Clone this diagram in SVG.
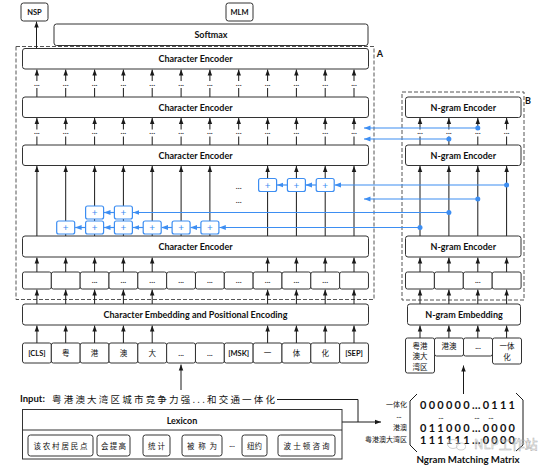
<svg xmlns="http://www.w3.org/2000/svg" width="554" height="469" viewBox="0 0 554 469">
<defs>
<marker id="ah" viewBox="0 0 8 8" refX="8" refY="4" markerWidth="6" markerHeight="6" orient="auto" markerUnits="userSpaceOnUse"><path d="M0,1 L8,4 L0,7 z" fill="#1a1a1a"/></marker>
<marker id="bh" viewBox="0 0 8 8" refX="8" refY="4" markerWidth="6.5" markerHeight="6.5" orient="auto" markerUnits="userSpaceOnUse"><path d="M0,1 L8,4 L0,7 z" fill="#3d8ef2"/></marker>
<style>
.bx{fill:#fff;stroke:#333;stroke-width:1}
.t{font-family:Lato,"Liberation Sans",sans-serif;font-weight:bold;font-size:9px;fill:#111;text-anchor:middle}
.s{font-size:7.5px}
.cj{font-family:"Noto Sans CJK SC",sans-serif;font-size:7.5px;fill:#111;text-anchor:middle}
.dt{font-family:Lato,"Liberation Sans",sans-serif;font-size:8px;font-weight:bold;fill:#333;text-anchor:middle}
.dash{fill:none;stroke:#555;stroke-width:1;stroke-dasharray:4 2}
.ln{stroke:#1a1a1a;stroke-width:1;fill:none}
.ar{stroke:#1a1a1a;stroke-width:1;fill:none;marker-end:url(#ah)}
.bl{stroke:#3d8ef2;stroke-width:1.2;fill:none;marker-end:url(#bh)}
.pb{fill:#fff;stroke:#3d8ef2;stroke-width:1.2}
.pt{font-family:Lato,"Liberation Sans",sans-serif;font-size:10px;fill:#3d8ef2;text-anchor:middle}
.bd{fill:#3d8ef2}
.mx{font-family:Lato,"Liberation Sans",sans-serif;font-weight:bold;font-size:11px;fill:#111}
</style>
</defs>
<rect width="554" height="469" fill="#fff"/>

<g id="groupA"><rect class="dash" x="16" y="46.5" width="358" height="253"/><text class="t" x="380" y="57">A</text></g>
<g id="groupB"><rect class="dash" x="402" y="92" width="122" height="208"/><text class="t" x="528" y="104">B</text></g>

<g id="connectors">
<line class="ar" x1="36.5" y1="48" x2="36.5" y2="21.5"/>
<path class="ln" d="M36.9,97V88M65.7,97V88M94.6,97V88M123.4,97V88M152.2,97V88M181.1,97V88M209.9,97V88M238.7,97V88M267.6,97V88M296.4,97V88M325.2,97V88M354,97V88"/>
<line class="ar" x1="36.9" y1="81" x2="36.9" y2="69.5"/><line class="ar" x1="65.7" y1="81" x2="65.7" y2="69.5"/><line class="ar" x1="94.6" y1="81" x2="94.6" y2="69.5"/><line class="ar" x1="123.4" y1="81" x2="123.4" y2="69.5"/><line class="ar" x1="152.2" y1="81" x2="152.2" y2="69.5"/><line class="ar" x1="181.1" y1="81" x2="181.1" y2="69.5"/><line class="ar" x1="209.9" y1="81" x2="209.9" y2="69.5"/><line class="ar" x1="238.7" y1="81" x2="238.7" y2="69.5"/><line class="ar" x1="267.6" y1="81" x2="267.6" y2="69.5"/><line class="ar" x1="296.4" y1="81" x2="296.4" y2="69.5"/><line class="ar" x1="325.2" y1="81" x2="325.2" y2="69.5"/><line class="ar" x1="354" y1="81" x2="354" y2="69.5"/>
<path class="ln" d="M36.9,145V136.5M65.7,145V136.5M94.6,145V136.5M123.4,145V136.5M152.2,145V136.5M181.1,145V136.5M209.9,145V136.5M238.7,145V136.5M267.6,145V136.5M296.4,145V136.5M325.2,145V136.5M354,145V136.5"/>
<line class="ar" x1="36.9" y1="129.5" x2="36.9" y2="118"/><line class="ar" x1="65.7" y1="129.5" x2="65.7" y2="118"/><line class="ar" x1="94.6" y1="129.5" x2="94.6" y2="118"/><line class="ar" x1="123.4" y1="129.5" x2="123.4" y2="118"/><line class="ar" x1="152.2" y1="129.5" x2="152.2" y2="118"/><line class="ar" x1="181.1" y1="129.5" x2="181.1" y2="118"/><line class="ar" x1="209.9" y1="129.5" x2="209.9" y2="118"/><line class="ar" x1="238.7" y1="129.5" x2="238.7" y2="118"/><line class="ar" x1="267.6" y1="129.5" x2="267.6" y2="118"/><line class="ar" x1="296.4" y1="129.5" x2="296.4" y2="118"/><line class="ar" x1="325.2" y1="129.5" x2="325.2" y2="118"/><line class="ar" x1="354" y1="129.5" x2="354" y2="118"/>
<line class="ar" x1="36.9" y1="236" x2="36.9" y2="166"/><line class="ar" x1="65.7" y1="236" x2="65.7" y2="166"/><line class="ar" x1="94.6" y1="236" x2="94.6" y2="166"/><line class="ar" x1="123.4" y1="236" x2="123.4" y2="166"/><line class="ar" x1="152.2" y1="236" x2="152.2" y2="166"/><line class="ar" x1="181.1" y1="236" x2="181.1" y2="166"/><line class="ar" x1="209.9" y1="236" x2="209.9" y2="166"/><line class="ar" x1="267.6" y1="236" x2="267.6" y2="166"/><line class="ar" x1="296.4" y1="236" x2="296.4" y2="166"/><line class="ar" x1="325.2" y1="236" x2="325.2" y2="166"/><line class="ar" x1="354" y1="236" x2="354" y2="166"/>
<line class="ar" x1="36.9" y1="272" x2="36.9" y2="257.5"/><line class="ar" x1="65.7" y1="272" x2="65.7" y2="257.5"/><line class="ar" x1="94.6" y1="272" x2="94.6" y2="257.5"/><line class="ar" x1="123.4" y1="272" x2="123.4" y2="257.5"/><line class="ar" x1="152.2" y1="272" x2="152.2" y2="257.5"/><line class="ar" x1="267.6" y1="272" x2="267.6" y2="257.5"/><line class="ar" x1="296.4" y1="272" x2="296.4" y2="257.5"/><line class="ar" x1="325.2" y1="272" x2="325.2" y2="257.5"/><line class="ar" x1="354" y1="272" x2="354" y2="257.5"/>
<line class="ar" x1="36.9" y1="304" x2="36.9" y2="289.5"/><line class="ar" x1="65.7" y1="304" x2="65.7" y2="289.5"/><line class="ar" x1="94.6" y1="304" x2="94.6" y2="289.5"/><line class="ar" x1="123.4" y1="304" x2="123.4" y2="289.5"/><line class="ar" x1="152.2" y1="304" x2="152.2" y2="289.5"/><line class="ar" x1="267.6" y1="304" x2="267.6" y2="289.5"/><line class="ar" x1="296.4" y1="304" x2="296.4" y2="289.5"/><line class="ar" x1="325.2" y1="304" x2="325.2" y2="289.5"/><line class="ar" x1="354" y1="304" x2="354" y2="289.5"/>
<line class="ar" x1="36.9" y1="343" x2="36.9" y2="325.5"/><line class="ar" x1="65.7" y1="343" x2="65.7" y2="325.5"/><line class="ar" x1="94.6" y1="343" x2="94.6" y2="325.5"/><line class="ar" x1="123.4" y1="343" x2="123.4" y2="325.5"/><line class="ar" x1="152.2" y1="343" x2="152.2" y2="325.5"/><line class="ar" x1="267.6" y1="343" x2="267.6" y2="325.5"/><line class="ar" x1="296.4" y1="343" x2="296.4" y2="325.5"/><line class="ar" x1="325.2" y1="343" x2="325.2" y2="325.5"/><line class="ar" x1="354" y1="343" x2="354" y2="325.5"/>
<line class="ar" x1="181" y1="390" x2="181" y2="364.5"/>
<path class="ln" d="M420,145V136.5M448.9,145V136.5M477.8,145V136.5M506.6,145V136.5"/>
<line class="ar" x1="420" y1="129.5" x2="420" y2="118"/><line class="ar" x1="448.9" y1="129.5" x2="448.9" y2="118"/><line class="ar" x1="477.8" y1="129.5" x2="477.8" y2="118"/><line class="ar" x1="506.6" y1="129.5" x2="506.6" y2="118"/>
<line class="ar" x1="420" y1="236" x2="420" y2="166"/><line class="ar" x1="448.9" y1="236" x2="448.9" y2="166"/><line class="ar" x1="477.8" y1="236" x2="477.8" y2="166"/><line class="ar" x1="506.6" y1="236" x2="506.6" y2="166"/>
<line class="ar" x1="420" y1="272" x2="420" y2="257.5"/><line class="ar" x1="448.9" y1="272" x2="448.9" y2="257.5"/><line class="ar" x1="477.8" y1="272" x2="477.8" y2="257.5"/><line class="ar" x1="506.6" y1="272" x2="506.6" y2="257.5"/>
<line class="ar" x1="420" y1="304" x2="420" y2="289.5"/><line class="ar" x1="448.9" y1="304" x2="448.9" y2="289.5"/><line class="ar" x1="477.8" y1="304" x2="477.8" y2="289.5"/><line class="ar" x1="506.6" y1="304" x2="506.6" y2="289.5"/>
<line class="ar" x1="420" y1="338" x2="420" y2="325.5"/><line class="ar" x1="448.9" y1="338" x2="448.9" y2="325.5"/><line class="ar" x1="477.8" y1="338" x2="477.8" y2="325.5"/><line class="ar" x1="506.6" y1="338" x2="506.6" y2="325.5"/>
<line class="ar" x1="463.5" y1="394" x2="463.5" y2="365.5"/>
<path class="ln" d="M277,399.5H358V422"/>
<line class="ar" x1="342" y1="422" x2="381" y2="422"/>
<line class="bl" x1="477.8" y1="128" x2="364" y2="128"/>
<line class="bl" x1="448.9" y1="139" x2="364" y2="139"/>
<line class="bl" x1="506.6" y1="185" x2="334.6" y2="185"/>
<line class="bl" x1="316.2" y1="185" x2="305.6" y2="185"/>
<line class="bl" x1="287.4" y1="185" x2="276.8" y2="185"/>
<line class="bl" x1="477.8" y1="199" x2="364" y2="199"/>
<line class="bl" x1="448.9" y1="212.5" x2="132.8" y2="212.5"/>
<line class="bl" x1="114.4" y1="212.5" x2="104" y2="212.5"/>
<line class="bl" x1="420" y1="227.5" x2="219.3" y2="227.5"/>
<line class="bl" x1="200.9" y1="227.5" x2="190.5" y2="227.5"/>
<line class="bl" x1="172.1" y1="227.5" x2="161.6" y2="227.5"/>
<line class="bl" x1="143.2" y1="227.5" x2="132.8" y2="227.5"/>
<line class="bl" x1="114.4" y1="227.5" x2="104" y2="227.5"/>
<line class="bl" x1="85.6" y1="227.5" x2="75.1" y2="227.5"/>
<circle class="bd" cx="477.8" cy="128" r="2.5"/><circle class="bd" cx="448.9" cy="139" r="2.5"/><circle class="bd" cx="506.6" cy="185" r="2.5"/><circle class="bd" cx="477.8" cy="199" r="2.5"/><circle class="bd" cx="448.9" cy="212.5" r="2.5"/><circle class="bd" cx="420" cy="227.5" r="2.5"/>
</g>

<g id="dots">
<text class="dt" x="36.9" y="85.5">...</text><text class="dt" x="65.7" y="85.5">...</text><text class="dt" x="94.6" y="85.5">...</text><text class="dt" x="123.4" y="85.5">...</text><text class="dt" x="152.2" y="85.5">...</text><text class="dt" x="181.1" y="85.5">...</text><text class="dt" x="209.9" y="85.5">...</text><text class="dt" x="238.7" y="85.5">...</text><text class="dt" x="267.6" y="85.5">...</text><text class="dt" x="296.4" y="85.5">...</text><text class="dt" x="325.2" y="85.5">...</text><text class="dt" x="354" y="85.5">...</text>
<text class="dt" x="36.9" y="134">...</text><text class="dt" x="65.7" y="134">...</text><text class="dt" x="94.6" y="134">...</text><text class="dt" x="123.4" y="134">...</text><text class="dt" x="152.2" y="134">...</text><text class="dt" x="181.1" y="134">...</text><text class="dt" x="209.9" y="134">...</text><text class="dt" x="238.7" y="134">...</text><text class="dt" x="267.6" y="134">...</text><text class="dt" x="296.4" y="134">...</text><text class="dt" x="325.2" y="134">...</text><text class="dt" x="354" y="134">...</text>
<text class="dt" x="420" y="134">...</text><text class="dt" x="448.9" y="134">...</text><text class="dt" x="477.8" y="134">...</text><text class="dt" x="506.6" y="134">...</text>
<text class="dt" x="238.7" y="188.5">...</text><text class="dt" x="238.7" y="202.5">...</text>
</g>

<g id="nsp"><rect class="bx" x="21" y="3" width="27" height="18" rx="2.5"/><text class="t s" x="34.5" y="15">NSP</text></g>
<g id="mlm"><rect class="bx" x="226" y="3" width="27" height="18" rx="2.5"/><text class="t s" x="239.5" y="15">MLM</text></g>
<g id="softmax"><rect class="bx" x="54" y="24" width="314" height="21.5" rx="2.5"/><text class="t" x="211" y="38">Softmax</text></g>
<g id="ce1"><rect class="bx" x="22.5" y="48.5" width="346" height="20.5" rx="2.5"/><text class="t" x="195.5" y="62">Character Encoder</text></g>
<g id="ce2"><rect class="bx" x="22.5" y="97" width="346" height="20.5" rx="2.5"/><text class="t" x="195.5" y="110.5">Character Encoder</text></g>
<g id="ce3"><rect class="bx" x="22.5" y="145" width="346" height="20.5" rx="2.5"/><text class="t" x="195.5" y="158.5">Character Encoder</text></g>
<g id="ce4"><rect class="bx" x="22.5" y="236" width="346" height="21" rx="2.5"/><text class="t" x="195.5" y="249.8">Character Encoder</text></g>

<g id="plus">
<rect class="pb" x="56.7" y="221" width="18" height="13" rx="2"/><text class="pt" x="65.7" y="231">+</text>
<rect class="pb" x="85.6" y="221" width="18" height="13" rx="2"/><text class="pt" x="94.6" y="231">+</text>
<rect class="pb" x="114.4" y="221" width="18" height="13" rx="2"/><text class="pt" x="123.4" y="231">+</text>
<rect class="pb" x="143.2" y="221" width="18" height="13" rx="2"/><text class="pt" x="152.2" y="231">+</text>
<rect class="pb" x="172.1" y="221" width="18" height="13" rx="2"/><text class="pt" x="181.1" y="231">+</text>
<rect class="pb" x="200.9" y="221" width="18" height="13" rx="2"/><text class="pt" x="209.9" y="231">+</text>
<rect class="pb" x="85.6" y="206" width="18" height="13" rx="2"/><text class="pt" x="94.6" y="216">+</text>
<rect class="pb" x="114.4" y="206" width="18" height="13" rx="2"/><text class="pt" x="123.4" y="216">+</text>
<rect class="pb" x="258.6" y="178.5" width="18" height="13" rx="2"/><text class="pt" x="267.6" y="188.5">+</text>
<rect class="pb" x="287.4" y="178.5" width="18" height="13" rx="2"/><text class="pt" x="296.4" y="188.5">+</text>
<rect class="pb" x="316.2" y="178.5" width="18" height="13" rx="2"/><text class="pt" x="325.2" y="188.5">+</text>
</g>

<g id="hidden-row">
<rect class="bx" x="22.5" y="272" width="28.83" height="17" rx="2"/>
<rect class="bx" x="51.33" y="272" width="28.83" height="17" rx="2"/>
<rect class="bx" x="80.16" y="272" width="28.83" height="17" rx="2"/><text class="dt" x="94.6" y="283">...</text>
<rect class="bx" x="108.99" y="272" width="28.83" height="17" rx="2"/><text class="dt" x="123.4" y="283">...</text>
<rect class="bx" x="137.82" y="272" width="28.83" height="17" rx="2"/><text class="dt" x="152.2" y="283">...</text>
<rect class="bx" x="166.65" y="272" width="28.83" height="17" rx="2"/><text class="dt" x="181.1" y="283">...</text>
<rect class="bx" x="195.48" y="272" width="28.83" height="17" rx="2"/><text class="dt" x="209.9" y="283">...</text>
<rect class="bx" x="224.31" y="272" width="28.83" height="17" rx="2"/><text class="dt" x="238.7" y="283">...</text>
<rect class="bx" x="253.14" y="272" width="28.83" height="17" rx="2"/><text class="dt" x="267.6" y="283">...</text>
<rect class="bx" x="281.97" y="272" width="28.83" height="17" rx="2"/><text class="dt" x="296.4" y="283">...</text>
<rect class="bx" x="310.8" y="272" width="28.83" height="17" rx="2"/><text class="dt" x="325.2" y="283">...</text>
<rect class="bx" x="339.63" y="272" width="28.83" height="17" rx="2"/>
</g>

<g id="embedding"><rect class="bx" x="22.5" y="304" width="346" height="21" rx="2.5"/><text class="t" x="195.5" y="317.8">Character Embedding and Positional Encoding</text></g>

<g id="tokens">
<rect class="bx" x="22.5" y="343" width="28.83" height="20" rx="2"/><text class="t s" x="36.9" y="356">[CLS]</text>
<rect class="bx" x="51.33" y="343" width="28.83" height="20" rx="2"/><text class="cj" x="65.7" y="356">粤</text>
<rect class="bx" x="80.16" y="343" width="28.83" height="20" rx="2"/><text class="cj" x="94.6" y="356">港</text>
<rect class="bx" x="108.99" y="343" width="28.83" height="20" rx="2"/><text class="cj" x="123.4" y="356">澳</text>
<rect class="bx" x="137.82" y="343" width="28.83" height="20" rx="2"/><text class="cj" x="152.2" y="356">大</text>
<rect class="bx" x="166.65" y="343" width="28.83" height="20" rx="2"/><text class="dt" x="181.1" y="356">...</text>
<rect class="bx" x="195.48" y="343" width="28.83" height="20" rx="2"/><text class="dt" x="209.9" y="356">...</text>
<rect class="bx" x="224.31" y="343" width="28.83" height="20" rx="2"/><text class="t s" x="238.7" y="356">[MSK]</text>
<rect class="bx" x="253.14" y="343" width="28.83" height="20" rx="2"/><text class="cj" x="267.6" y="356">一</text>
<rect class="bx" x="281.97" y="343" width="28.83" height="20" rx="2"/><text class="cj" x="296.4" y="356">体</text>
<rect class="bx" x="310.8" y="343" width="28.83" height="20" rx="2"/><text class="cj" x="325.2" y="356">化</text>
<rect class="bx" x="339.63" y="343" width="28.83" height="20" rx="2"/><text class="t s" x="354" y="356">[SEP]</text>
</g>

<g id="ne1"><rect class="bx" x="405.5" y="97" width="115.5" height="20.5" rx="2.5"/><text class="t" x="463.3" y="110.5">N-gram Encoder</text></g>
<g id="ne2"><rect class="bx" x="405.5" y="145" width="115.5" height="20.5" rx="2.5"/><text class="t" x="463.3" y="158.5">N-gram Encoder</text></g>
<g id="ne3"><rect class="bx" x="405.5" y="236" width="115.5" height="21" rx="2.5"/><text class="t" x="463.3" y="249.8">N-gram Encoder</text></g>
<g id="ngram-row">
<rect class="bx" x="405.5" y="272" width="28.9" height="17" rx="2"/>
<rect class="bx" x="434.4" y="272" width="28.9" height="17" rx="2"/>
<rect class="bx" x="463.3" y="272" width="28.9" height="17" rx="2"/><text class="dt" x="477.8" y="283">...</text>
<rect class="bx" x="492.2" y="272" width="28.9" height="17" rx="2"/>
</g>
<g id="ngram-embedding"><rect class="bx" x="407.5" y="304" width="113" height="21" rx="2.5"/><text class="t" x="464" y="317.8">N-gram Embedding</text></g>
<g id="ngram-tokens">
<rect class="bx" x="405.5" y="338" width="29" height="35" rx="2"/>
<text class="cj" x="420" y="348.5">粤港</text><text class="cj" x="420" y="359">澳大</text><text class="cj" x="420" y="369.5">湾区</text>
<rect class="bx" x="434.5" y="338" width="29" height="18" rx="2"/><text class="cj" x="449" y="349">港澳</text>
<rect class="bx" x="463.5" y="338" width="29" height="18" rx="2"/><text class="dt" x="478" y="349">...</text>
<rect class="bx" x="492.5" y="338" width="29" height="26" rx="2"/><text class="cj" x="507" y="348.5">一体</text><text class="cj" x="507" y="359.5">化</text>
</g>

<g id="input">
<text class="t" x="20" y="402" style="text-anchor:start;font-size:9.5px">Input:</text>
<text class="cj" x="52" y="402.5" style="text-anchor:start;font-size:9.5px" textLength="223" lengthAdjust="spacing">粤港澳大湾区城市竞争力强...和交通一体化</text>
</g>

<g id="lexicon">
<rect class="bx" x="22.5" y="409.5" width="319.5" height="49.5"/>
<line class="ln" x1="22.5" y1="430" x2="342" y2="430" style="stroke:#333"/>
<text class="t" x="182" y="423.5">Lexicon</text>
<rect class="bx" x="28" y="435" width="65" height="21" rx="2.5"/><text class="cj" x="60.5" y="448.5" textLength="54" lengthAdjust="spacing">该农村居民点</text>
<rect class="bx" x="97" y="435" width="33" height="21" rx="2.5"/><text class="cj" x="113.5" y="448.5" textLength="25" lengthAdjust="spacing">会提高</text>
<rect class="bx" x="143" y="435" width="27" height="21" rx="2.5"/><text class="cj" x="156.5" y="448.5" textLength="17" lengthAdjust="spacing">统计</text>
<rect class="bx" x="182" y="435" width="40" height="21" rx="2.5"/><text class="cj" x="202" y="448.5" textLength="30" lengthAdjust="spacing">被称为</text>
<text class="dt" x="232" y="447">...</text>
<rect class="bx" x="242" y="435" width="25" height="21" rx="2.5"/><text class="cj" x="254.5" y="448.5" textLength="15" lengthAdjust="spacing">纽约</text>
<rect class="bx" x="278" y="435" width="57" height="21" rx="2.5"/><text class="cj" x="306.5" y="448.5" textLength="46" lengthAdjust="spacing">波士顿咨询</text>
</g>

<g id="matrix">
<path class="ln" d="M417,394L410,401V445L417,452"/>
<path class="ln" d="M516,393L523,400V445L516,451"/>
<text class="cj" x="407" y="407" style="text-anchor:end;font-size:7px">一体化</text>
<text class="dt" x="399" y="418" style="font-size:7px">...</text>
<text class="cj" x="407" y="430" style="text-anchor:end;font-size:7px">港澳</text>
<text class="cj" x="407" y="442" style="text-anchor:end;font-size:7px">粤港澳大湾区</text>
<text class="mx" x="420" y="408.5" textLength="95" lengthAdjust="spacing">000000…0111</text>
<text class="dt" x="441" y="418.5" style="font-size:7px">...</text><text class="dt" x="477" y="418.5" style="font-size:7px">...</text><text class="dt" x="491" y="418.5" style="font-size:7px">...</text>
<text class="mx" x="420" y="431.5" textLength="95" lengthAdjust="spacing">011000…0000</text>
<text class="mx" x="420" y="444" textLength="95" lengthAdjust="spacing">111111…0000</text>
<text class="t" x="468" y="462.5" style="font-size:10px" textLength="103" lengthAdjust="spacingAndGlyphs">Ngram Matching Matrix</text>
</g>

<g id="watermark" opacity="0.75">
<ellipse cx="453" cy="444" rx="5.5" ry="4.5" fill="#fff" fill-opacity="0.5" stroke="#aaa" stroke-width="0.7"/>
<ellipse cx="461" cy="446.5" rx="4.5" ry="3.5" fill="#fff" fill-opacity="0.5" stroke="#aaa" stroke-width="0.7"/>
<text x="474" y="449" style="font-family:'Noto Sans CJK SC',sans-serif;font-size:13px;fill:#fff;fill-opacity:0.4;stroke:#999;stroke-width:0.5">NLP工作站</text>
</g>
</svg>
